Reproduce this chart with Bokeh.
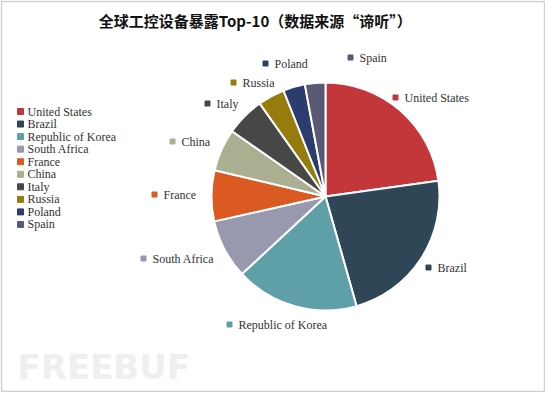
import numpy as np
from bokeh.plotting import figure
from bokeh.models import Range1d, ColumnDataSource
from bokeh.core.properties import value
from bokeh.embed import file_html
from bokeh.resources import INLINE

# ---------------- data ----------------
countries = ["United States", "Brazil", "Republic of Korea", "South Africa", "France",
             "China", "Italy", "Russia", "Poland", "Spain"]
shares = [22.8, 22.8, 17.5, 8.4, 7.2, 6.0, 5.5, 3.8, 3.1, 2.9]
colors = ["#C3373A", "#2E4656", "#5FA0A8", "#9898AE", "#DA5A22",
          "#ACAE92", "#474747", "#957C0C", "#2B3C6E", "#575A72"]
title_text = "全球工控设备暴露Top-10（数据来源“谛听”）"

# ---------------- layout (image pixels) ----------------
W, H = 545, 392
def sy(y):
    return H - y

CX, CY, R = 325, 196, 114
label_pos = [(395, 97), (428, 267), (229, 324), (143, 258), (154, 194),
             (172, 141), (207, 103), (233, 82), (265, 63), (350, 57)]
LEG_X, LEG_Y0, LEG_DY = 20, 111, 12.55
SERIF = value("Liberation Serif")
TXT_COLOR = "#333333"

p = figure(width=W, height=H, output_backend="svg", toolbar_location=None,
           x_range=Range1d(0, W), y_range=Range1d(0, H),
           min_border=0, outline_line_color=None)
p.axis.visible = False
p.grid.visible = False
p.background_fill_color = "white"
p.border_fill_color = "white"

# frame border
p.quad(left=1, right=W - 1, top=sy(1), bottom=sy(H - 1), fill_color=None,
       line_color="#cfcfcf", line_width=1.5)

# watermark
p.text(x=[17], y=[sy(366)], text=["FREEBUF"], text_font=value("DejaVu Sans"),
       text_font_style="bold", text_font_size="34px", text_color="#efefef",
       text_baseline="middle", text_align="left")

# pie
arr = np.array(shares, dtype=float)
frac = arr / arr.sum()
cum = np.cumsum(frac)
start = np.pi / 2 - 2 * np.pi * (cum - frac)
end = np.pi / 2 - 2 * np.pi * cum
src = ColumnDataSource(dict(country=countries, share=shares, color=colors,
                            start=start, end=end))
p.wedge(x=CX, y=sy(CY), radius=R, start_angle="start", end_angle="end",
        direction="clock", fill_color="color", line_color="white", line_width=2,
        source=src)

# slice labels
lx = [a for a, b in label_pos]
ly = [sy(b) for a, b in label_pos]
p.scatter(x=lx, y=ly, marker="square", size=5, color=colors)
p.text(x=[v + 9 for v in lx], y=ly, text=countries, text_font=SERIF,
       text_font_size="12px", text_color=TXT_COLOR, text_baseline="middle",
       text_align="left")

# legend
gy = [sy(LEG_Y0 + i * LEG_DY) for i in range(len(countries))]
p.scatter(x=[LEG_X] * len(countries), y=gy, marker="square", size=6, color=colors)
p.text(x=[LEG_X + 7] * len(countries), y=gy, text=countries, text_font=SERIF,
       text_font_size="12px", text_color=TXT_COLOR, text_baseline="middle",
       text_align="left")

# title
p.text(x=[258.5], y=[sy(20)], text=[title_text], text_font=value("Noto Sans CJK SC"),
       text_font_style="bold", text_font_size="15px", text_color="#111111",
       text_baseline="middle", text_align="center")

open("out.html", "w").write(file_html(p, INLINE))
